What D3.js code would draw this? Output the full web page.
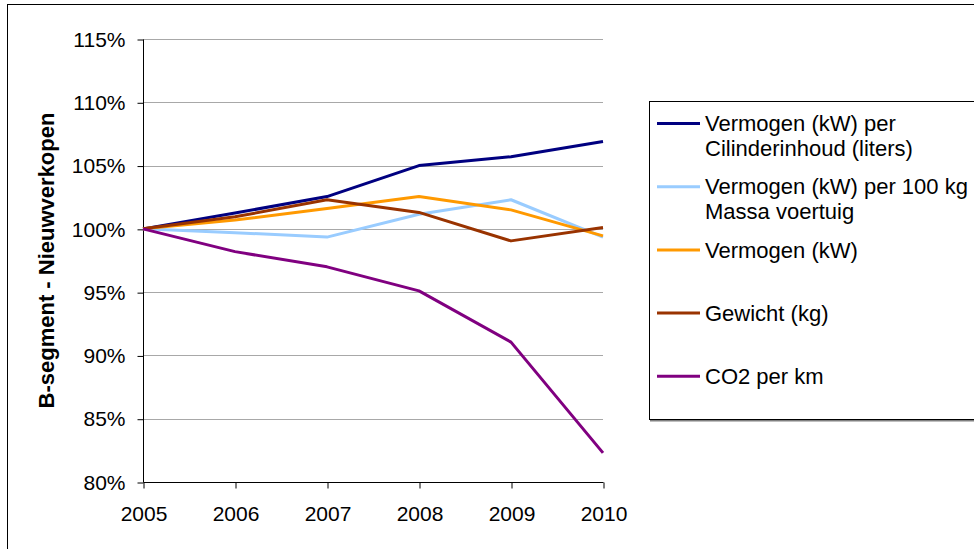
<!DOCTYPE html>
<html>
  <head>
    <meta charset="utf-8">
    <script type="text/javascript" src="https://cdn.jsdelivr.net/npm/d3@7"></script>
    <title></title>
    <style>
      body { margin: 0; background: #fff; }
      svg { display: block; font-family: Arial, "Liberation Sans", sans-serif; }
    </style>
  </head>
  <body>
    <div id="chart"></div>
    <script type="text/javascript">
    // data (index 2005 = 100%)
    var years = ["2005", "2006", "2007", "2008", "2009", "2010"];
    var vermCilinder = [100, 101.25, 102.55, 105.0, 105.7, 106.9];
    var vermPer100kg = [100, 99.7, 99.35, 101.15, 102.3, 99.35];
    var vermogen = [100, 100.7, 101.6, 102.55, 101.5, 99.45];
    var gewicht = [100, 100.95, 102.3, 101.3, 99.05, 100.1];
    var co2 = [100, 98.2, 97.0, 95.1, 91.05, 82.3];
    var yTicks = [80, 85, 90, 95, 100, 105, 110, 115];

    var seriesNames = [
      ["Vermogen (kW) per", "Cilinderinhoud (liters)"],
      ["Vermogen (kW) per 100 kg", "Massa voertuig"],
      ["Vermogen (kW)"],
      ["Gewicht (kg)"],
      ["CO2 per km"]
    ];
    var seriesValues = [vermCilinder, vermPer100kg, vermogen, gewicht, co2];
    var seriesColors = ["#000080", "#99ccff", "#ff9900", "#993300", "#800080"];

    var w = 974, h = 549;
    var plotLeft = 143, plotRight = 603, plotTop = 39, plotBottom = 482;

    var svg = d3.select("#chart").append("svg")
        .attr("width", w)
        .attr("height", h);

    // outer chart border (runs off the right and bottom edge)
    svg.append("rect")
      .attr("x", 7.5).attr("y", 4.5)
      .attr("width", 1000).attr("height", 600)
      .attr("fill", "none").attr("stroke", "#000").attr("stroke-width", 1);

    var x = d3.scalePoint().domain(years).range([plotLeft, plotRight]);
    var y = d3.scaleLinear().domain([80, 115]).range([plotBottom, plotTop]);

    // gridlines
    svg.append("g").selectAll("line")
      .data(yTicks.slice(1))
      .enter().append("line")
      .attr("x1", plotLeft).attr("x2", plotRight)
      .attr("y1", function(d) { return Math.round(y(d)) + 0.5; })
      .attr("y2", function(d) { return Math.round(y(d)) + 0.5; })
      .attr("stroke", "#a8a8a8").attr("stroke-width", 1);

    // y axis
    var yAxis = svg.append("g")
      .attr("transform", "translate(" + (plotLeft + 0.5) + ",0.5)")
      .call(d3.axisLeft(y).tickValues(yTicks).tickSize(6).tickPadding(12)
        .tickFormat(function(d) { return d + "%"; }));
    yAxis.select(".domain").attr("stroke", "#000").attr("d", "M0," + plotTop + "V" + plotBottom);
    yAxis.selectAll("text").attr("font-size", 21).attr("font-family", "Arial, 'Liberation Sans', sans-serif").attr("fill", "#000");

    // x axis
    var xAxis = svg.append("g")
      .attr("transform", "translate(0.5," + (Math.round(plotBottom) + 0.5) + ")")
      .call(d3.axisBottom(x).tickSize(6).tickPadding(18));
    xAxis.select(".domain").attr("stroke", "#000").attr("d", "M" + plotLeft + ",0H" + plotRight);
    xAxis.selectAll("text").attr("font-size", 21).attr("font-family", "Arial, 'Liberation Sans', sans-serif").attr("fill", "#000");

    // y axis title
    svg.append("text")
      .attr("transform", "translate(54," + ((plotTop + plotBottom) / 2) + ") rotate(-90)")
      .attr("text-anchor", "middle")
      .attr("font-size", 22)
      .attr("font-weight", "bold")
      .text("B-segment - Nieuwverkopen");

    // lines
    var line = d3.line()
      .x(function(d, i) { return x(years[i]); })
      .y(function(d) { return y(d); });

    svg.append("g").selectAll("path")
      .data(seriesValues)
      .enter().append("path")
      .attr("d", line)
      .attr("fill", "none")
      .attr("stroke", function(d, i) { return seriesColors[i]; })
      .attr("stroke-width", 3)
      .attr("stroke-linejoin", "round");

    // legend
    var lg = svg.append("g");
    lg.append("line")
      .attr("x1", 650).attr("x2", 1000).attr("y1", 420.5).attr("y2", 420.5)
      .attr("stroke", "#808080").attr("stroke-width", 2);
    lg.append("rect")
      .attr("x", 649.5).attr("y", 101.5)
      .attr("width", 400).attr("height", 318)
      .attr("fill", "#fff").attr("stroke", "#000").attr("stroke-width", 1);

    var entry = lg.selectAll("g.entry")
      .data(seriesNames)
      .enter().append("g")
      .attr("class", "entry")
      .attr("transform", function(d, i) { return "translate(0," + (123.5 + i * 63.2) + ")"; });

    entry.append("line")
      .attr("x1", 657).attr("x2", 700)
      .attr("stroke", function(d, i) { return seriesColors[i]; })
      .attr("stroke-width", 3);

    entry.selectAll("text")
      .data(function(d) { return d; })
      .enter().append("text")
      .attr("x", 705)
      .attr("y", function(d, j) { return j * 25; })
      .attr("dy", "0.35em")
      .attr("font-size", 22)
      .text(function(d) { return d; });
    </script>
  </body>
</html>
